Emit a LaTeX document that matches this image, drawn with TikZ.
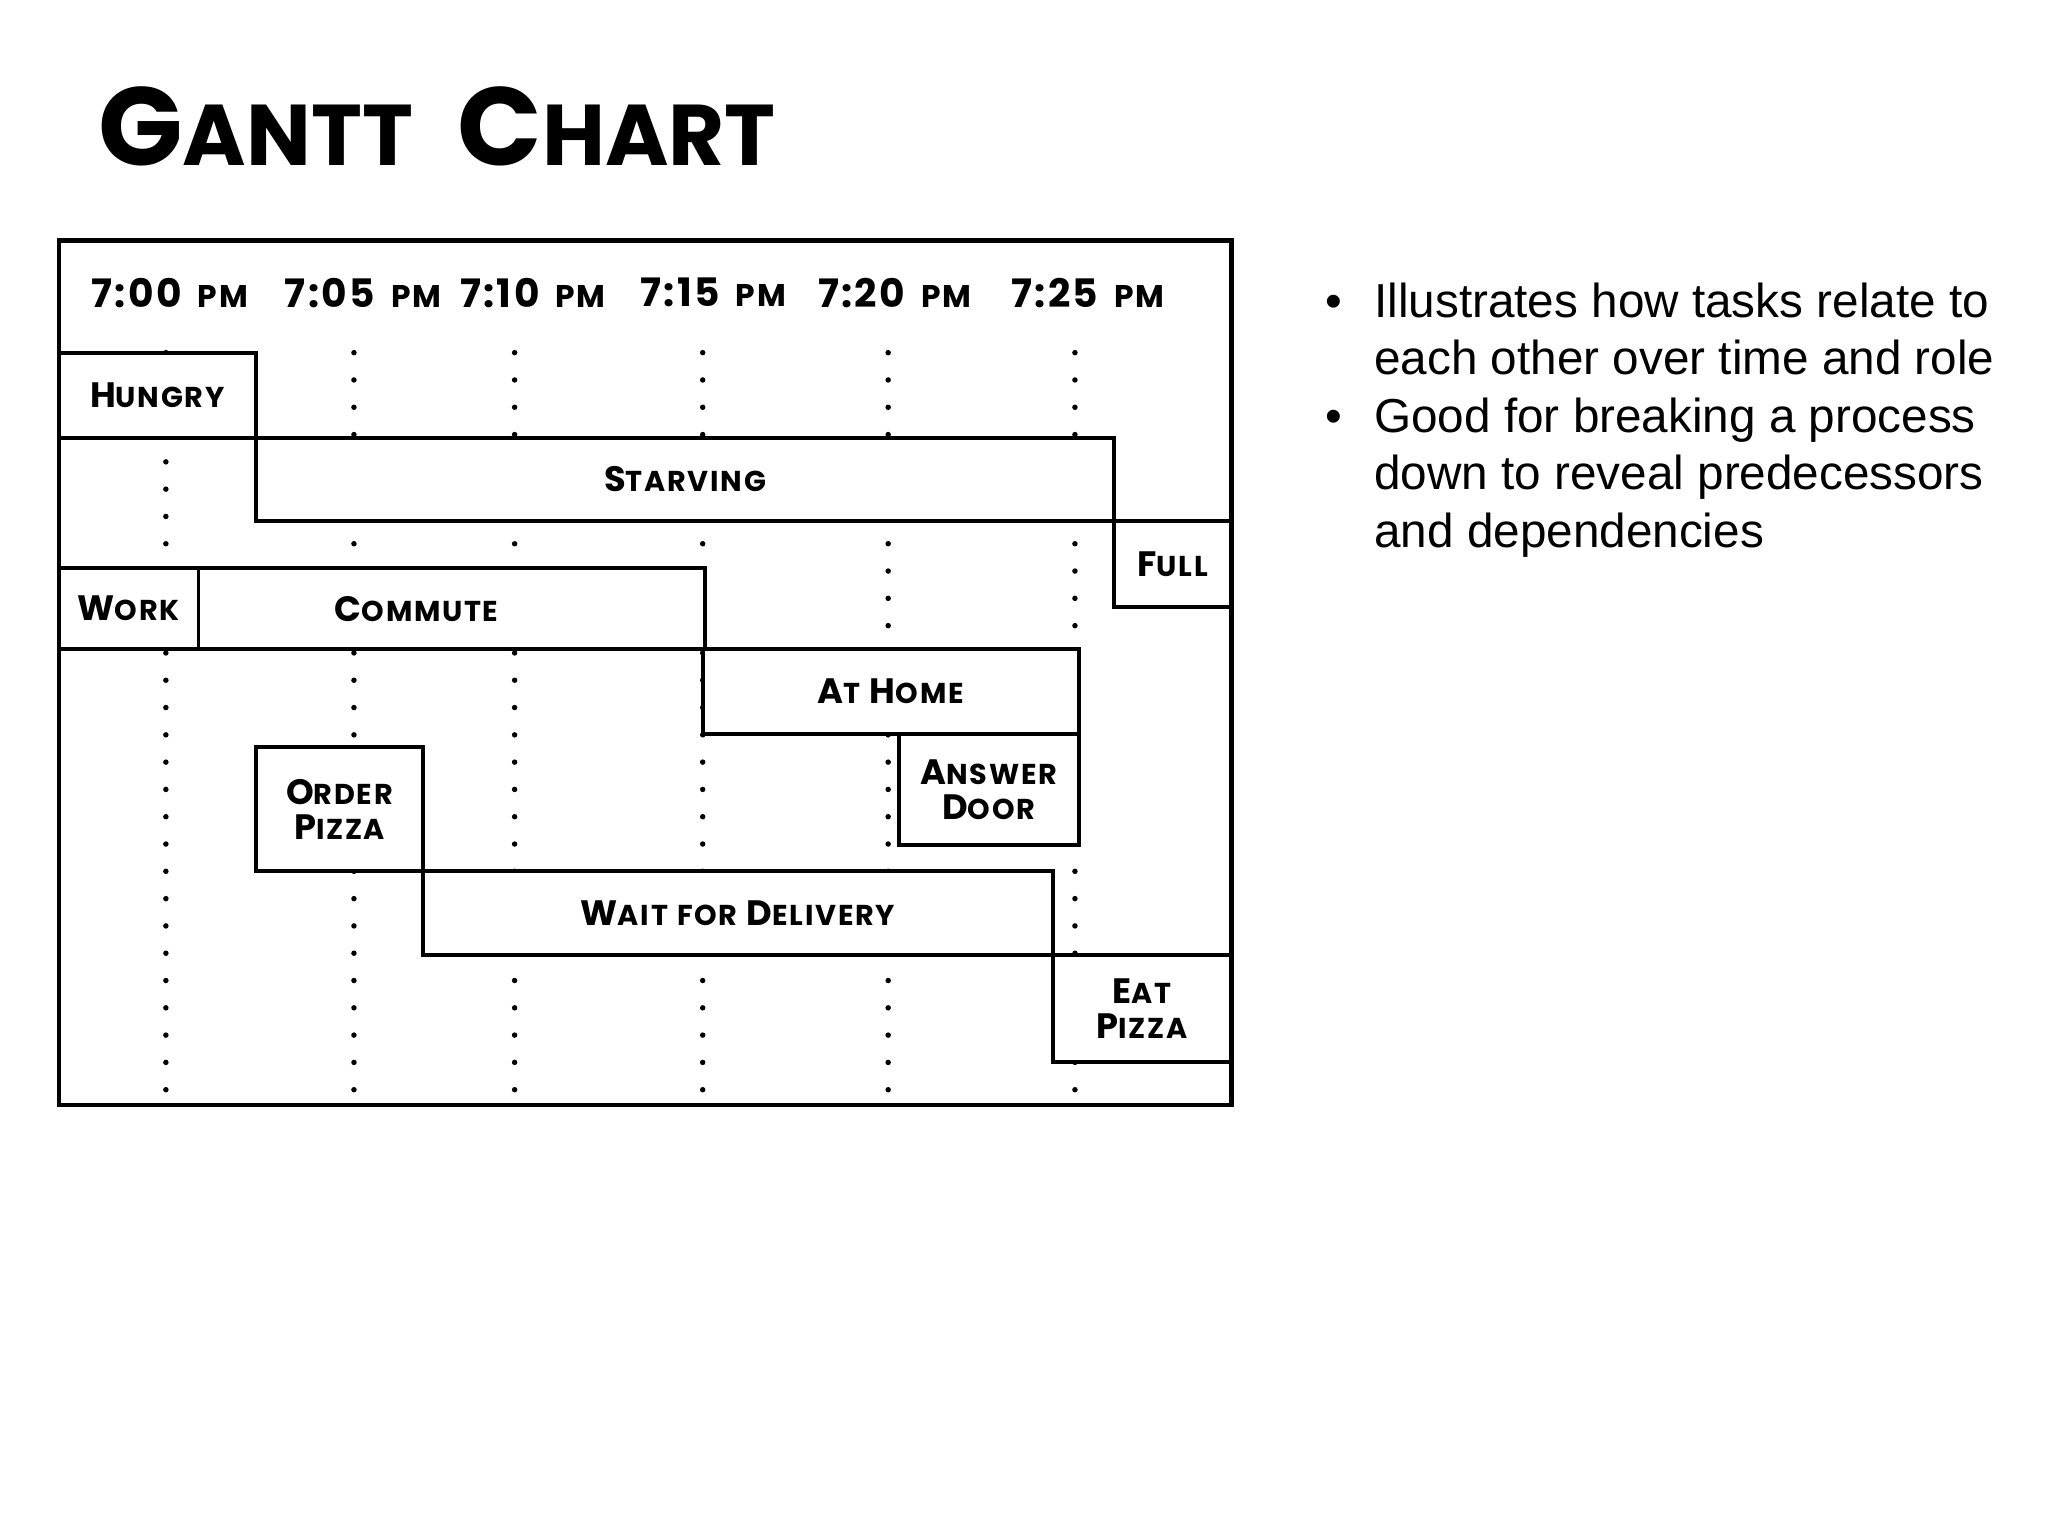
\documentclass[tikz,border=0pt]{standalone}
\usepackage{fontspec}
\setmainfont{Liberation Sans}
\newfontfamily\handfont{Poppins}
\newfontfamily\boxfont{Poppins}[LetterSpace=6]
\newcommand\Bg[1]{{\fontsize{27}{28}\selectfont #1}}
\newcommand\Tg[1]{{\fontsize{85}{88}\selectfont #1}}
\newcommand\pmtxt{{\fontsize{24}{24}\selectfont PM}}
\newcommand\wsp{\hspace{7pt}}
\tikzset{
  gbox/.style={draw=black, line width=3pt, fill=white, inner sep=0pt, outer sep=0pt, align=center,
    font=\boxfont\bfseries\fontsize{22}{27}\selectfont},
  tlabel/.style={inner sep=0pt, font=\boxfont\bfseries\fontsize{30}{30}\selectfont},
  btext/.style={inner sep=0pt, anchor=base west, font=\fontsize{36.5}{44}\selectfont},
  bmark/.style={inner sep=0pt, anchor=base, font=\fontsize{36.5}{44}\selectfont},
  titlestyle/.style={inner sep=0pt, anchor=base west, font=\handfont\bfseries\fontsize{66}{70}\selectfont}
}
\newcommand\gbox[6]{\node[gbox, minimum width={(#4-#2)*1pt}, minimum height={(#5-#3)*1pt}] (#1) at ({(#2+#4)/2},{(#3+#5)/2}) {#6};}
\begin{document}
\begin{tikzpicture}[x=1pt,y=-1pt]
\useasboundingbox (0,0) rectangle (1568,1176);
\fill[white] (0,0) rectangle (1568,1176);
% title
\node[titlestyle] (title) at (75,127) {\Tg{G}ANTT\hspace{20pt} \Tg{C}HART};
% frame
\node[draw=black, fill=white, line width=3.4pt, inner sep=0pt, outer sep=0pt,
  minimum width=898pt, minimum height=662pt] (frame) at (494,515) {};
% time labels
\node[tlabel] (t0) at (130,224) {7:00\hspace{4pt} \pmtxt};
\node[tlabel] (t1) at (278,224) {7:05\hspace{4pt} \pmtxt};
\node[tlabel] (t2) at (408,224) {7:10\hspace{4pt} \pmtxt};
\node[tlabel] (t3) at (546,224) {7:15\hspace{4pt} \pmtxt};
\node[tlabel] (t4) at (685,224) {7:20\hspace{4pt} \pmtxt};
\node[tlabel] (t5) at (833,224) {7:25\hspace{4pt} \pmtxt};
% dotted time lines
\foreach \cx in {127,271,394,538,680,823} {
  \foreach \k in {0,...,27} {
    \fill[black] (\cx,{270+20.9*\k}) circle (2.1pt);
  }
}
% task boxes
\gbox{hungry}{45}{270}{196}{335}{\Bg{H}UNGRY}
\gbox{starving}{196}{335}{853}{399}{\Bg{S}TARVING}
\gbox{full}{853}{399}{943}{465}{\Bg{F}ULL}
\gbox{work}{45}{435}{152}{497}{\Bg{W}ORK}
\gbox{commute}{152}{435}{540}{497}{}
\node[inner sep=0pt, font=\boxfont\bfseries\fontsize{22}{27}\selectfont] (commutetxt) at (319,466) {\Bg{C}OMMUTE};
\gbox{athome}{538}{497}{826}{562}{\Bg{A}T\wsp \Bg{H}OME}
\gbox{answer}{688}{562}{826}{647}{\Bg{A}NSWER\\\Bg{D}OOR}
\gbox{order}{196}{572}{324}{667}{\Bg{O}RDER\\\Bg{P}IZZA}
\gbox{wait}{324}{667}{806}{731}{\Bg{W}AIT\wsp FOR\wsp \Bg{D}ELIVERY}
\gbox{eat}{806}{731}{943}{813}{\Bg{E}AT\\\Bg{P}IZZA}
% frame outline on top
\draw[black, line width=3.4pt] (frame.north west) rectangle (frame.south east);
% bullets
\node[bmark] (bul1) at (1021,243) {•};
\node[btext] (b1l1) at (1052,243) {Illustrates how tasks relate to};
\node[btext] (b1l2) at (1052,287) {each other over time and role};
\node[bmark] (bul2) at (1021,331) {•};
\node[btext] (b2l1) at (1052,331) {Good for breaking a process};
\node[btext] (b2l2) at (1052,375) {down to reveal predecessors};
\node[btext] (b2l3) at (1052,419) {and dependencies};
\end{tikzpicture}
\end{document}
